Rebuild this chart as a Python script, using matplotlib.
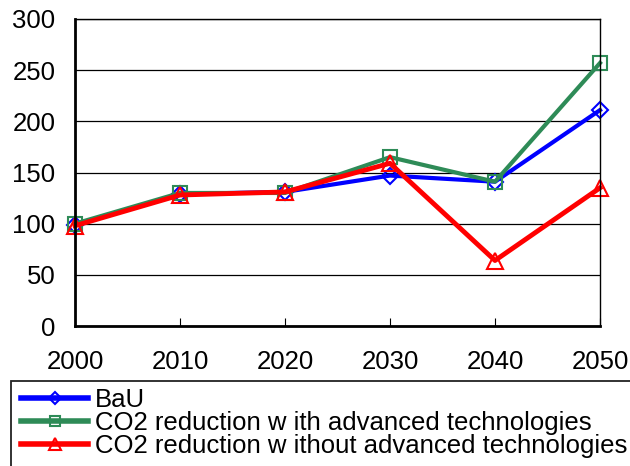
import matplotlib
matplotlib.use("Agg")
import matplotlib.pyplot as plt
from matplotlib.patches import Rectangle

years = [2000, 2010, 2020, 2030, 2040, 2050]
bau = [99, 129, 131, 147, 141, 211]
with_adv = [100, 130, 130, 165, 141, 257]
without_adv = [98, 128, 131, 159, 64, 135]
labels = ["BaU", "CO2 reduction w ith advanced technologies",
          "CO2 reduction w ithout advanced technologies"]
yticks = [0, 50, 100, 150, 200, 250, 300]

plt.rcParams['font.family'] = ['Liberation Sans', 'DejaVu Sans']

W, H = 630, 466
fig = plt.figure(figsize=(6.3, 4.66), dpi=100)
ax = fig.add_axes([75/W, 1-326/H, 525/W, 307/H])

ax.plot(years, bau, color='#0000ff', lw=3, marker='D', ms=8, mfc='none', mec='#0000ff', mew=1.5, label=labels[0], clip_on=False)
ax.plot(years, with_adv, color='#2e8b57', lw=3, marker='s', ms=10, mfc='none', mec='#2e8b57', mew=1.5, label=labels[1], clip_on=False)
ax.plot(years, without_adv, color='#ff0000', lw=3.5, marker='^', ms=11, mfc='none', mec='#ff0000', mew=1.5, label=labels[2], clip_on=False)

ax.set_xlim(2000, 2050)
ax.set_ylim(0, 300)
ax.set_yticks(yticks)
ax.set_xticks(years)
ax.yaxis.grid(True, color='black', lw=0.9)
ax.set_axisbelow(True)
ax.tick_params(axis='y', length=0, labelsize=18.5, pad=14)
ax.tick_params(axis='x', direction='in', length=6, labelsize=18.5, pad=17)
for s in ax.spines.values():
    s.set_color('black')
    s.set_linewidth(1)
ax.spines['left'].set_linewidth(2)
ax.spines['bottom'].set_linewidth(2)

# legend frame running off the figure edge, as in the reference
fig.patches.append(Rectangle((11/W, -0.1), 1.0, (H-381)/H + 0.1, transform=fig.transFigure,
                             fill=False, edgecolor='#222222', lw=1.3))

leg = fig.legend(loc='upper left', bbox_to_anchor=(11/W, 1-378/H), fontsize=18.5,
                 frameon=False, labelspacing=-0.04, handlelength=2.6, markerscale=0.75,
                 handletextpad=0.27, borderpad=0.4, borderaxespad=0)
for line in leg.get_lines():
    line.set_linewidth(4)

fig.savefig('out.png', dpi=100)
